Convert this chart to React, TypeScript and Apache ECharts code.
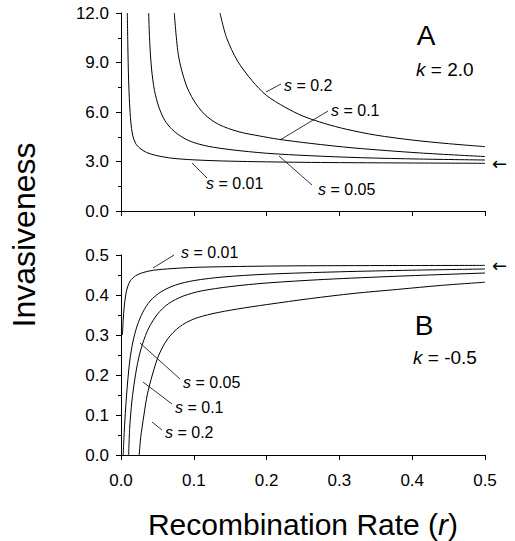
import React, { useEffect, useRef } from "react";
import * as echarts from "echarts";

// ---- Data ----
// Panel A (k = 2.0): invasiveness vs recombination rate r
const topR_s001 = [0.0087, 0.0094, 0.0104, 0.0118, 0.0135, 0.016, 0.02, 0.026, 0.035, 0.05, 0.07, 0.1, 0.15, 0.25, 0.35, 0.5];
const topV_s001 = [12, 10, 8, 6.5, 5.4, 4.6, 4.1, 3.8, 3.55, 3.35, 3.2, 3.1, 3.02, 2.95, 2.92, 2.89];
const topR_s005 = [0.038, 0.0395, 0.042, 0.046, 0.052, 0.06, 0.07, 0.085, 0.1, 0.12, 0.15, 0.2, 0.26, 0.33, 0.41, 0.5];
const topV_s005 = [12, 10.2, 8.6, 7.3, 6.3, 5.5, 4.95, 4.45, 4.15, 3.92, 3.72, 3.5, 3.35, 3.23, 3.15, 3.09];
const topR_s01 = [0.0732, 0.079, 0.089, 0.1, 0.115, 0.134, 0.162, 0.19, 0.216, 0.26, 0.32, 0.41, 0.5];
const topV_s01 = [12, 9.4, 7.7, 6.7, 5.85, 5.25, 4.8, 4.55, 4.35, 4.1, 3.82, 3.52, 3.3];
const topR_s02 = [0.136, 0.145, 0.16, 0.18, 0.2, 0.225, 0.25, 0.28, 0.31, 0.35, 0.4, 0.45, 0.5];
const topV_s02 = [12, 10.5, 9.1, 7.9, 7.0, 6.3, 5.75, 5.3, 4.95, 4.6, 4.3, 4.08, 3.9];

// Panel B (k = -0.5)
const botR_s001 = [0.002, 0.003, 0.0045, 0.0065, 0.009, 0.013, 0.02, 0.03, 0.045, 0.07, 0.1, 0.15, 0.25, 0.5];
const botV_s001 = [0.3, 0.337, 0.372, 0.4, 0.42, 0.436, 0.448, 0.456, 0.462, 0.466, 0.469, 0.471, 0.473, 0.474];
const botR_s005 = [0.003, 0.0045, 0.0065, 0.009, 0.012, 0.016, 0.022, 0.03, 0.04, 0.055, 0.075, 0.1, 0.14, 0.2, 0.3, 0.4, 0.5];
const botV_s005 = [0, 0.06, 0.12, 0.18, 0.235, 0.28, 0.322, 0.357, 0.385, 0.408, 0.425, 0.436, 0.445, 0.452, 0.458, 0.462, 0.465];
const botR_s01 = [0.0105, 0.012, 0.015, 0.019, 0.024, 0.03, 0.038, 0.05, 0.065, 0.085, 0.11, 0.15, 0.2, 0.28, 0.38, 0.5];
const botV_s01 = [0, 0.07, 0.135, 0.19, 0.24, 0.28, 0.317, 0.352, 0.378, 0.397, 0.41, 0.421, 0.43, 0.439, 0.447, 0.455];
const botR_s02 = [0.025, 0.027, 0.0315, 0.036, 0.043, 0.052, 0.064, 0.08, 0.1, 0.125, 0.16, 0.2, 0.26, 0.32, 0.38, 0.44, 0.5];
const botV_s02 = [0, 0.043, 0.1, 0.15, 0.2, 0.25, 0.29, 0.32, 0.34, 0.353, 0.365, 0.376, 0.391, 0.404, 0.414, 0.424, 0.432];

const xTicks = [0, 0.1, 0.2, 0.3, 0.4, 0.5];
const topYTicks = [0, 3, 6, 9, 12];
const botYTicks = [0, 0.1, 0.2, 0.3, 0.4, 0.5];

const FONT = "'Liberation Sans', Arial, Helvetica, sans-serif";

const zip = (xs: number[], ys: number[]) => xs.map((x, i) => [x, ys[i]]);

export default function App() {
  const ref = useRef<HTMLDivElement>(null);
  useEffect(() => {
    if (!ref.current) return;
    const chart = echarts.init(ref.current, null, { renderer: "svg" });

    const axisCommon = {
      type: "value" as const,
      axisLine: { show: true, lineStyle: { color: "#000", width: 1 } },
      axisTick: { show: true, inside: false, length: 5, lineStyle: { color: "#000" } },
      splitLine: { show: false },
    };
    const labelStyle = { color: "#000", fontSize: 17, fontFamily: FONT };

    const line = (xi: number, data: number[][]) => ({
      type: "line",
      xAxisIndex: xi,
      yAxisIndex: xi,
      data,
      showSymbol: false,
      smooth: 0.3,
      clip: true,
      lineStyle: { color: "#000", width: 1 },
      silent: true,
    });

    const sTxt = (x: number, y: number, val: string) => ({
      type: "text",
      x,
      y,
      style: {
        text: "{i|s} = " + val,
        rich: {
          i: { fontStyle: "italic", fontSize: 16, fontFamily: FONT, fill: "#000" },
        },
        fontSize: 16,
        fontFamily: FONT,
        fill: "#000",
        verticalAlign: "middle",
        align: "left",
      },
    });
    const lead = (x1: number, y1: number, x2: number, y2: number) => ({
      type: "line",
      shape: { x1, y1, x2, y2 },
      style: { stroke: "#000", lineWidth: 0.8 },
    });

    chart.setOption({
      animation: false,
      backgroundColor: "#fff",
      grid: [
        { left: 121, top: 13, width: 364, height: 198 },
        { left: 121, top: 255, width: 364, height: 200 },
      ],
      xAxis: [
        {
          ...axisCommon,
          gridIndex: 0,
          min: xTicks[0],
          max: xTicks[xTicks.length - 1],
          interval: 0.1,
          axisLabel: { show: false },
        },
        {
          ...axisCommon,
          gridIndex: 1,
          min: xTicks[0],
          max: xTicks[xTicks.length - 1],
          interval: 0.1,
          axisLabel: { ...labelStyle, margin: 17, formatter: (v: number) => v.toFixed(1) },
        },
      ],
      yAxis: [
        {
          ...axisCommon,
          gridIndex: 0,
          min: topYTicks[0],
          max: topYTicks[topYTicks.length - 1],
          interval: 3,
          minorTick: { show: true, splitNumber: 2, length: 3, lineStyle: { color: "#000" } },
          axisLabel: { ...labelStyle, margin: 12, formatter: (v: number) => v.toFixed(1) },
        },
        {
          ...axisCommon,
          gridIndex: 1,
          min: botYTicks[0],
          max: botYTicks[botYTicks.length - 1],
          interval: 0.1,
          minorTick: { show: true, splitNumber: 2, length: 3, lineStyle: { color: "#000" } },
          axisLabel: { ...labelStyle, margin: 12, formatter: (v: number) => v.toFixed(1) },
        },
      ],
      series: [
        line(0, zip(topR_s001, topV_s001)),
        line(0, zip(topR_s005, topV_s005)),
        line(0, zip(topR_s01, topV_s01)),
        line(0, zip(topR_s02, topV_s02)),
        line(1, zip(botR_s001, botV_s001)),
        line(1, zip(botR_s005, botV_s005)),
        line(1, zip(botR_s01, botV_s01)),
        line(1, zip(botR_s02, botV_s02)),
      ],
      graphic: [
        // axis titles
        {
          type: "text",
          x: 303,
          y: 524,
          style: {
            text: "Recombination Rate ({i|r})",
            rich: { i: { fontStyle: "italic", fontSize: 30, fontFamily: FONT, fill: "#000" } },
            fontSize: 30,
            fontFamily: FONT,
            fill: "#000",
            align: "center",
            verticalAlign: "middle",
          },
        },
        {
          type: "text",
          x: 24,
          y: 235,
          rotation: Math.PI / 2,
          style: {
            text: "Invasiveness",
            fontSize: 32,
            fontFamily: FONT,
            fill: "#000",
            align: "center",
            verticalAlign: "middle",
          },
        },
        // panel labels
        { type: "text", x: 426, y: 35, style: { text: "A", fontSize: 28, fontFamily: FONT, fill: "#000", align: "center", verticalAlign: "middle" } },
        {
          type: "text",
          x: 416,
          y: 69,
          style: {
            text: "{i|k} = 2.0",
            rich: { i: { fontStyle: "italic", fontSize: 19, fontFamily: FONT, fill: "#000" } },
            fontSize: 19, fontFamily: FONT, fill: "#000", align: "left", verticalAlign: "middle",
          },
        },
        { type: "text", x: 424, y: 325, style: { text: "B", fontSize: 28, fontFamily: FONT, fill: "#000", align: "center", verticalAlign: "middle" } },
        {
          type: "text",
          x: 413,
          y: 357,
          style: {
            text: "{i|k} = -0.5",
            rich: { i: { fontStyle: "italic", fontSize: 19, fontFamily: FONT, fill: "#000" } },
            fontSize: 19, fontFamily: FONT, fill: "#000", align: "left", verticalAlign: "middle",
          },
        },
        // asymptote arrows
        { type: "text", x: 492, y: 163, style: { text: "←", fontSize: 18, fontFamily: "'DejaVu Sans', sans-serif", fill: "#000", align: "left", verticalAlign: "middle" } },
        { type: "text", x: 492, y: 265, style: { text: "←", fontSize: 18, fontFamily: "'DejaVu Sans', sans-serif", fill: "#000", align: "left", verticalAlign: "middle" } },
        // top annotations
        lead(266, 92, 281, 84),
        sTxt(284, 85, "0.2"),
        lead(280, 140, 328, 111),
        sTxt(331, 110, "0.1"),
        lead(279, 156, 312, 185),
        sTxt(318, 189, "0.05"),
        lead(192, 163, 207, 178),
        sTxt(206, 183, "0.01"),
        // bottom annotations
        lead(153, 268, 174, 255),
        sTxt(181, 252, "0.01"),
        lead(140, 343, 180, 379),
        sTxt(183, 382, "0.05"),
        lead(143, 382, 172, 404),
        sTxt(175, 407, "0.1"),
        lead(152, 422, 162, 430),
        sTxt(165, 432, "0.2"),
      ],
    });

    return () => chart.dispose();
  }, []);

  return <div ref={ref} style={{ position: "absolute", left: 0, top: 0, width: 515, height: 541 }} />;
}
